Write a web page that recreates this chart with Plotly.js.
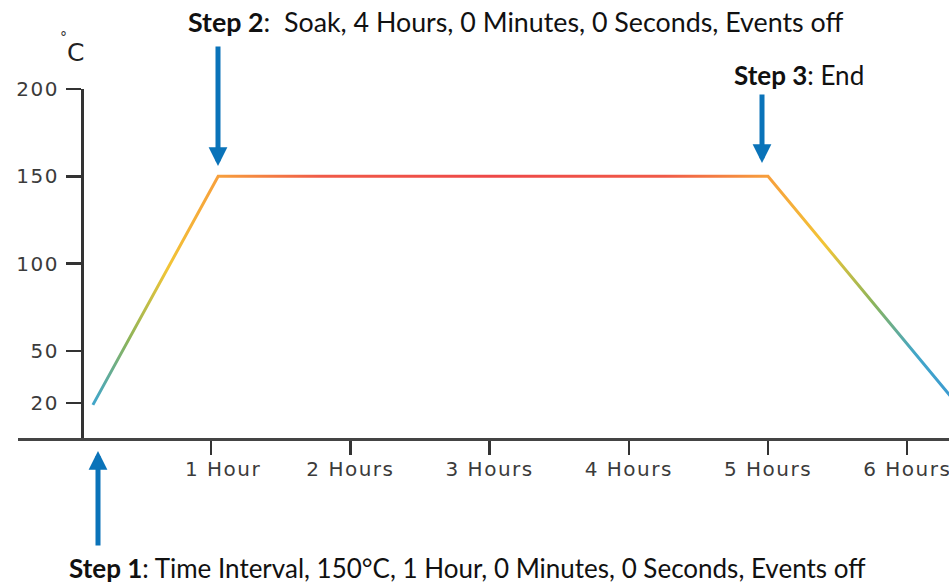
<!DOCTYPE html>
<html><head><meta charset="utf-8">
<script src="https://cdn.plot.ly/plotly-3.0.1.min.js"></script>
<style>
html,body{margin:0;padding:0;background:#fff;}
#chart{width:949px;height:584px;}
.xtick text,.ytick text{letter-spacing:1.5px;}
</style></head><body><div id="chart"></div>
<script>
// ---- data ----
const hours = [0.15, 1.05, 5.0, 6.31];
const tempC = [19, 150, 150, 24];
const xTickVals = [1, 2, 3, 4, 5, 6];
const xTickText = ['\u00a0\u00a0\u00a01 Hour', '2 Hours', '3 Hours', '4 Hours', '5 Hours', '6 Hours'];
const yTickVals = [20, 50, 100, 150, 200];
const yTickText = ['20', '50', '100', '150', '200'];
const stepTitles = ['Step 1', 'Step 2', 'Step 3'];
const stepTexts = [
  ': Time Interval, 150°C, 1 Hour, 0 Minutes, 0 Seconds, Events off',
  ':\u00a0 Soak, 4 Hours, 0 Minutes, 0 Seconds, Events off',
  ': End'
];

// ---- layout helpers (pixel -> paper) ----
const W = 949, H = 584, L = 18, R = 0, T = 89, B = 146;
const PW = W - L - R, PH = H - T - B;
const px = x => (x - L) / PW;
const py = y => (H - B - y) / PH;

const arrowColor = '#0a73b9';
const fontFam = 'Lato, "Open Sans", sans-serif';

const annotations = [
  // arrows
  {xref: 'paper', yref: 'paper', x: px(218), y: py(166), ax: 0, ay: -121, text: '', showarrow: true,
   arrowhead: 2, arrowsize: 0.75, arrowwidth: 5, arrowcolor: arrowColor, standoff: 0},
  {xref: 'paper', yref: 'paper', x: px(762), y: py(163), ax: 0, ay: -70, text: '', showarrow: true,
   arrowhead: 2, arrowsize: 0.75, arrowwidth: 5, arrowcolor: arrowColor, standoff: 0},
  {xref: 'paper', yref: 'paper', x: px(98), y: py(451), ax: 0, ay: 96, text: '', showarrow: true,
   arrowhead: 2, arrowsize: 0.75, arrowwidth: 5, arrowcolor: arrowColor, standoff: 0},
  // step texts
  {xref: 'paper', yref: 'paper', x: px(515), y: py(22), xanchor: 'center', yanchor: 'middle', showarrow: false,
   text: '<b>' + stepTitles[1] + '</b>' + stepTexts[1], font: {family: fontFam, size: 26.8, color: '#111'}},
  {xref: 'paper', yref: 'paper', x: px(799), y: py(75), xanchor: 'center', yanchor: 'middle', showarrow: false,
   text: '<b>' + stepTitles[2] + '</b>' + stepTexts[2], font: {family: fontFam, size: 26, color: '#111'}},
  {xref: 'paper', yref: 'paper', x: px(467), y: py(568), xanchor: 'center', yanchor: 'middle', showarrow: false,
   text: '<b>' + stepTitles[0] + '</b>' + stepTexts[0], font: {family: fontFam, size: 26, color: '#111'}},
  // unit label
  {xref: 'paper', yref: 'paper', x: px(63), y: py(37), xanchor: 'center', yanchor: 'middle', showarrow: false,
   text: '°', font: {family: 'DejaVu Sans', size: 14, color: '#333'}},
  {xref: 'paper', yref: 'paper', x: px(75), y: py(53), xanchor: 'center', yanchor: 'middle', showarrow: false,
   text: 'C', font: {family: 'DejaVu Sans', size: 25, color: '#222'}}
];

const trace = {
  x: hours, y: tempC, type: 'scatter', mode: 'lines',
  line: {color: '#f07a45', width: 3}, hoverinfo: 'skip'
};

const axisFont = {family: 'DejaVu Sans', size: 20, color: '#3b3b3b'};

const layout = {
  width: W, height: H,
  margin: {l: L, r: R, t: T, b: B, pad: 0},
  paper_bgcolor: '#fff', plot_bgcolor: '#fff',
  showlegend: false,
  xaxis: {
    range: [-0.388, 6.30], tickmode: 'array', tickvals: xTickVals, ticktext: xTickText,
    ticks: 'outside', ticklen: 14, tickwidth: 2.5, tickcolor: '#333',
    showline: true, linewidth: 3, linecolor: '#444', showgrid: false, zeroline: false,
    tickfont: axisFont, automargin: false, fixedrange: true, ticklabelstandoff: -3,
    ticklabeloverflow: 'allow'
  },
  yaxis: {
    range: [0, 200], tickmode: 'array', tickvals: yTickVals, ticktext: yTickText,
    anchor: 'free', position: px(82),
    ticks: 'outside', ticklen: 15, tickwidth: 2.5, tickcolor: '#333',
    showline: true, linewidth: 3, linecolor: '#333', showgrid: false, zeroline: false,
    tickfont: axisFont, automargin: false, fixedrange: true, ticklabelstandoff: 3,
    ticklabeloverflow: 'allow'
  },
  annotations: annotations
};

Plotly.newPlot('chart', [trace], layout, {staticPlot: true, displayModeBar: false}).then(gd => {
  const NS = 'http://www.w3.org/2000/svg';
  const svg = gd.querySelector('.main-svg');
  let defs = svg.querySelector('defs');
  if (!defs) { defs = document.createElementNS(NS, 'defs'); svg.insertBefore(defs, svg.firstChild); }
  const xa = gd._fullLayout.xaxis, ya = gd._fullLayout.yaxis;
  const cx = xa.l2p((hours[1] + hours[2]) / 2), cy = ya.l2p(tempC[1]);
  const grad = document.createElementNS(NS, 'radialGradient');
  grad.setAttribute('id', 'rampGrad');
  grad.setAttribute('gradientUnits', 'userSpaceOnUse');
  grad.setAttribute('cx', cx); grad.setAttribute('cy', cy); grad.setAttribute('r', 520);
  [[0, '#ee4848'], [0.33, '#f05a48'], [0.53, '#f7a03c'], [0.65, '#f2c536'],
   [0.77, '#8cb45a'], [0.88, '#42a6c8'], [1, '#3a98d2']].forEach(([o, c]) => {
    const s = document.createElementNS(NS, 'stop');
    s.setAttribute('offset', o); s.setAttribute('stop-color', c);
    grad.appendChild(s);
  });
  defs.appendChild(grad);
  gd.querySelectorAll('.scatterlayer .trace path.js-line').forEach(p => {
    p.style.stroke = 'url(#rampGrad)';
  });
});
</script></body></html>
